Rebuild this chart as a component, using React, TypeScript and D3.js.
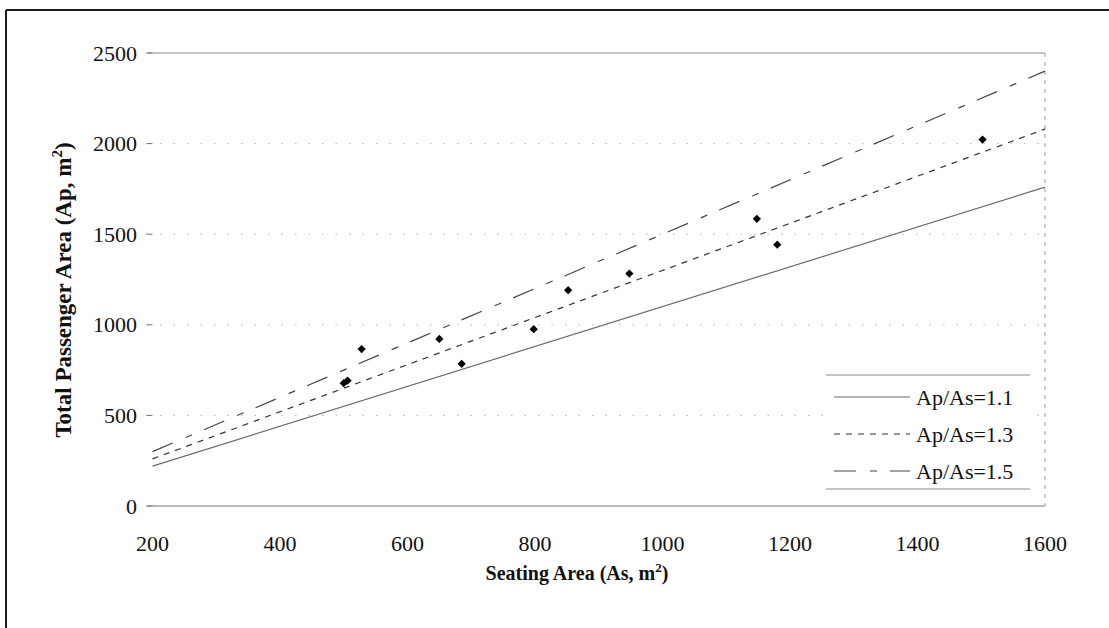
import React from "react";
import * as d3 from "d3";

// Observed terminals: seating area vs total passenger area (m²)
const seatingArea = [500, 506, 528, 650, 685, 798, 852, 948, 1148, 1180, 1502];
const passengerArea = [678, 692, 866, 922, 785, 976, 1191, 1283, 1585, 1442, 2022];

// Reference ratios Ap/As drawn as straight lines
const ratios = [1.1, 1.3, 1.5];
const ratioLabels = ["Ap/As=1.1", "Ap/As=1.3", "Ap/As=1.5"];
const ratioDash = ["none", "6 6", "22 14 7 13"];
const ratioStroke = ["#6a6a6a", "#333", "#444"];

const xTicks = [200, 400, 600, 800, 1000, 1200, 1400, 1600];
const yTicks = [0, 500, 1000, 1500, 2000, 2500];

const W = 1109;
const H = 628;
const FONT = "'Liberation Serif', 'Times New Roman', serif";

export default function App() {
  const x = d3.scaleLinear().domain([200, 1600]).range([152.5, 1045]);
  const y = d3.scaleLinear().domain([0, 2500]).range([506, 53]);
  const diamond = d3.symbol().type(d3.symbolSquare).size(34)();

  const legendX = 826;
  const legendRight = 1030;
  const legendTop = 375;
  const rowGap = 37;

  return (
    <svg
      width={W}
      height={H}
      style={{ position: "absolute", left: 0, top: 0, background: "#fff", fontFamily: FONT }}
    >
      <rect x={0} y={0} width={W} height={H} fill="#fff" />
      {/* outer frame (top and left edges) */}
      <line x1={6} x2={W} y1={10} y2={10} stroke="#1a1a1a" strokeWidth={2} />
      <line x1={6} x2={6} y1={10} y2={H} stroke="#1a1a1a" strokeWidth={2} />

      {/* horizontal gridlines with value labels */}
      {yTicks.map((t) => {
        const top = t === 2500;
        const base = t === 0;
        return (
          <g key={t}>
            <line
              x1={x(200) - 6}
              x2={x(1600)}
              y1={y(t)}
              y2={y(t)}
              stroke={base ? "#777" : top ? "#8a8a8a" : "#b5b5b5"}
              strokeWidth={1}
              strokeDasharray={base || top ? "none" : "1.5 12"}
            />
            <line x1={x(200) - 6} x2={x(200)} y1={y(t)} y2={y(t)} stroke="#777" />
            <text
              x={137}
              y={y(t)}
              textAnchor="end"
              dominantBaseline="central"
              fontSize={22}
              fill="#111"
            >
              {t}
            </text>
          </g>
        );
      })}

      {/* right edge of plot area */}
      <line
        x1={x(1600)}
        x2={x(1600)}
        y1={y(2500)}
        y2={y(0)}
        stroke="#999"
        strokeDasharray="4 5"
      />

      {/* x tick labels */}
      {xTicks.map((t) => (
        <text key={t} x={x(t)} y={551} textAnchor="middle" fontSize={22} fill="#111">
          {t}
        </text>
      ))}

      {/* ratio lines */}
      {ratios.map((r, i) => (
        <line
          key={"l" + r}
          x1={x(200)}
          y1={y(200 * r)}
          x2={x(1600)}
          y2={y(1600 * r)}
          stroke={ratioStroke[i]}
          strokeWidth={1.2}
          strokeDasharray={ratioDash[i]}
        />
      ))}

      {/* observed points */}
      {seatingArea.map((s, i) => (
        <path
          key={i}
          d={diamond as string}
          transform={`translate(${x(s)},${y(passengerArea[i])}) rotate(45)`}
          fill="#000"
        />
      ))}

      {/* legend */}
      <rect
        x={legendX}
        y={legendTop}
        width={legendRight - legendX}
        height={rowGap * 3 + 3}
        fill="#fff"
      />
      <line x1={legendX} x2={legendRight} y1={legendTop} y2={legendTop} stroke="#888" />
      <line
        x1={legendX}
        x2={legendRight}
        y1={legendTop + rowGap * 3 + 3}
        y2={legendTop + rowGap * 3 + 3}
        stroke="#888"
      />
      {ratioLabels.map((lab, i) => {
        const cy = legendTop + 22 + i * rowGap;
        return (
          <g key={lab}>
            <line
              x1={834}
              x2={910}
              y1={cy}
              y2={cy}
              stroke={ratioStroke[i]}
              strokeWidth={1.2}
              strokeDasharray={ratioDash[i]}
            />
            <text x={916} y={cy} dominantBaseline="central" fontSize={22} fill="#111">
              {lab}
            </text>
          </g>
        );
      })}

      {/* axis titles */}
      <text x={577} y={580} textAnchor="middle" fontSize={20} fontWeight="bold" fill="#111">
        Seating Area (As, m<tspan dy={-8} fontSize={13}>2</tspan>
        <tspan dy={8}>)</tspan>
      </text>
      <text
        transform={`translate(71, 290) rotate(-90)`}
        textAnchor="middle"
        fontSize={23}
        fontWeight="bold"
        fill="#111"
      >
        Total Passenger Area (Ap, m<tspan dy={-9} fontSize={15}>2</tspan>
        <tspan dy={9}>)</tspan>
      </text>
    </svg>
  );
}
